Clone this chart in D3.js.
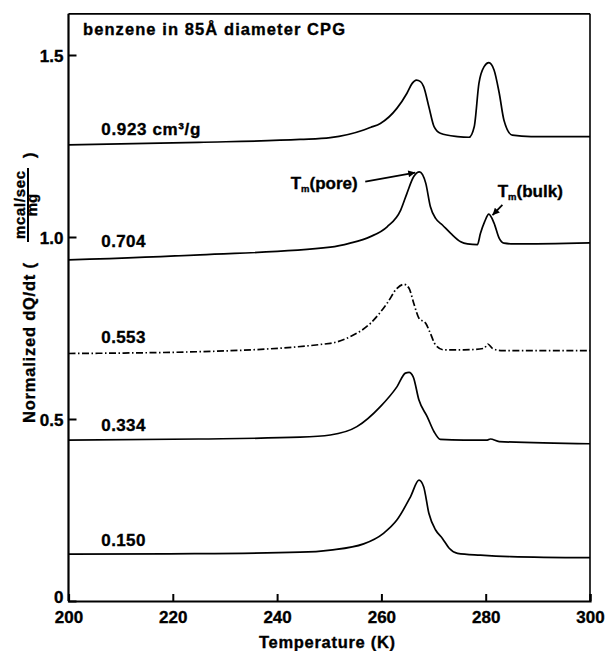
<!DOCTYPE html>
<html>
<head>
<meta charset="utf-8">
<script src="https://cdn.jsdelivr.net/npm/d3@7"></script>
<style>
  html, body { margin: 0; padding: 0; background: #fff; }
  svg { display: block; }
  text { font-family: "Liberation Sans", Arial, Helvetica, sans-serif; font-weight: bold; fill: #000; stroke: #000; stroke-width: 0.35px; }
</style>
</head>
<body>
<svg id="chart" width="605" height="651"></svg>
<script>
// ---- data ----
const xTicks = [200, 220, 240, 260, 280, 300];
const xTickLabels = ["200", "220", "240", "260", "280", "300"];
const yTicks = [0, 0.5, 1.0, 1.5];
const yTickLabels = ["0", "0.5", "1.0", "1.5"];

const seriesNames = ["0.923 cm³/g", "0.704", "0.553", "0.334", "0.150"];
const labelValues = [1.280, 0.972, 0.710, 0.468, 0.152];   // baseline of each curve label
const labelTemp = 206.3;

const t923 = [200, 225, 244.4, 250.2, 256.6, 257.9, 259.8, 263.0, 264.9, 265.9, 266.7, 267.5, 268.1, 269.1, 270.1, 271.3, 274.6, 276.8, 277.8, 278.7, 279.7, 280.6, 281.6, 282.6, 283.5, 285.1, 288.7, 300];
const v923 = [1.253, 1.260, 1.268, 1.273, 1.294, 1.301, 1.312, 1.354, 1.395, 1.422, 1.431, 1.427, 1.413, 1.358, 1.303, 1.285, 1.276, 1.274, 1.303, 1.422, 1.468, 1.479, 1.459, 1.395, 1.321, 1.280, 1.276, 1.276];

const t704 = [200, 225.2, 250.2, 254.0, 257.9, 261.1, 263.7, 264.9, 266.2, 267.3, 268.5, 269.4, 270.4, 271.7, 273.3, 275.2, 276.5, 278.4, 279.0, 279.8, 280.6, 281.6, 282.6, 283.5, 285.4, 300];
const v704 = [0.937, 0.951, 0.972, 0.983, 1.001, 1.028, 1.074, 1.120, 1.166, 1.179, 1.148, 1.083, 1.051, 1.033, 1.010, 0.987, 0.981, 0.979, 1.010, 1.042, 1.063, 1.038, 0.996, 0.983, 0.981, 0.984];

const t553 = [200, 225.2, 250.2, 254.0, 257.9, 261.1, 263.0, 264.3, 265.3, 266.2, 267.2, 268.5, 269.4, 270.4, 272.0, 275.8, 279.7, 280.4, 281.3, 282.9, 300];
const v553 = [0.680, 0.685, 0.708, 0.726, 0.763, 0.818, 0.859, 0.870, 0.859, 0.818, 0.777, 0.763, 0.735, 0.703, 0.690, 0.690, 0.694, 0.706, 0.694, 0.688, 0.688];

const t334 = [200, 225, 244.4, 250.2, 255.3, 259.8, 263.0, 264.6, 265.3, 266.1, 267.2, 268.8, 270.1, 271.3, 275.8, 280.3, 280.9, 282.6, 300];
const v334 = [0.442, 0.445, 0.450, 0.456, 0.479, 0.534, 0.589, 0.626, 0.628, 0.616, 0.552, 0.506, 0.465, 0.444, 0.442, 0.442, 0.445, 0.438, 0.432];

const t150 = [200, 225, 244.4, 250.2, 256.6, 260.4, 263.0, 265.6, 267.2, 268.1, 269.1, 270.4, 271.7, 273.0, 274.6, 279.0, 284.8, 300];
const v150 = [0.129, 0.130, 0.134, 0.140, 0.157, 0.186, 0.223, 0.287, 0.332, 0.314, 0.241, 0.195, 0.172, 0.145, 0.131, 0.126, 0.122, 0.119];

const seriesT = [t923, t704, t553, t334, t150];
const seriesV = [v923, v704, v553, v334, v150];
const seriesDash = [null, null, "7,2.5,1.5,2.5", null, null];

// annotation anchors in data space
const poreLabel = { t: 242.6, v: 1.132 };
const poreArrow = { t0: 256.9, v0: 1.152, t1: 266.5, v1: 1.177 };
const bulkLabel = { t: 282.3, v: 1.111 };
const bulkArrow = { t0: 283.2, v0: 1.088, t1: 281.3, v1: 1.060 };

// ---- scales ----
const svg = d3.select("#chart");
const x = d3.scaleLinear().domain([200, 300]).range([68.5, 590]);
const y = d3.scaleLinear().domain([0, 1.5]).range([601, 55]);
const yTop = 1.613;

// frame
svg.append("line").attr("x1", x(200)).attr("x2", x(300)).attr("y1", y(yTop)).attr("y2", y(yTop))
  .attr("stroke", "#000").attr("stroke-width", 1.6);
svg.append("line").attr("x1", x(300)).attr("x2", x(300)).attr("y1", y(yTop)).attr("y2", y(0))
  .attr("stroke", "#000").attr("stroke-width", 1.6);

// axes
const xAxis = d3.axisBottom(x).tickValues(xTicks).tickFormat((d, i) => xTickLabels[i])
  .tickSize(-7).tickPadding(10);
const gx = svg.append("g").attr("transform", `translate(0,${y(0)})`).call(xAxis);
gx.select(".domain").attr("stroke-width", 2.2);
gx.selectAll(".tick line").attr("stroke-width", 2);
gx.selectAll(".tick text").attr("font-size", 17).attr("font-family", null);

const yAxis = d3.axisLeft(y).tickValues(yTicks).tickFormat((d, i) => yTickLabels[i])
  .tickSize(-8).tickPadding(5);
const gy = svg.append("g").attr("transform", `translate(${x(200)},0)`).call(yAxis);
gy.select(".domain").attr("d", `M0,${y(0)}V${y(yTop)}`).attr("stroke-width", 2.2);
gy.selectAll(".tick line").attr("stroke-width", 2);
gy.selectAll(".tick text").attr("font-size", 17).attr("font-family", null)
  .attr("dy", d => d === 0 ? "0.08em" : "0.36em");

// curves
const line = d3.line().x(d => x(d[0])).y(d => y(d[1])).curve(d3.curveMonotoneX);
seriesT.forEach((ts, i) => {
  const pts = ts.map((t, j) => [t, seriesV[i][j]]);
  svg.append("path").datum(pts).attr("d", line)
    .attr("fill", "none").attr("stroke", "#000").attr("stroke-width", 1.7)
    .attr("stroke-dasharray", seriesDash[i]);
});

// series labels
seriesNames.forEach((name, i) => {
  const t = svg.append("text").attr("x", x(labelTemp)).attr("y", y(labelValues[i]))
    .attr("font-size", 17).text(name);
  if (i === 0) t.attr("textLength", 99).attr("lengthAdjust", "spacing");
  else t.attr("textLength", 44).attr("lengthAdjust", "spacing");
});

// title
svg.append("text").attr("x", 83).attr("y", 35).attr("font-size", 16.5)
  .attr("textLength", 262).attr("lengthAdjust", "spacing")
  .text("benzene in 85Å diameter CPG");

// x label
svg.append("text").attr("x", 259).attr("y", 648)
  .attr("font-size", 16.5).attr("textLength", 136).attr("lengthAdjust", "spacing")
  .text("Temperature (K)");

// y label
const yl = svg.append("g").attr("transform", "rotate(-90)");
yl.append("text").attr("x", -423).attr("y", 35).attr("font-size", 16.5)
  .attr("textLength", 160).attr("lengthAdjust", "spacing")
  .text("Normalized dQ/dt (");
yl.append("text").attr("x", -205).attr("y", 25).attr("text-anchor", "middle").attr("font-size", 15)
  .attr("textLength", 68).attr("lengthAdjust", "spacing")
  .text("mcal/sec");
yl.append("line").attr("x1", -242).attr("x2", -168).attr("y1", 28).attr("y2", 28)
  .attr("stroke", "#000").attr("stroke-width", 2);
yl.append("text").attr("x", -205).attr("y", 37).attr("text-anchor", "middle").attr("font-size", 15)
  .text("mg");
yl.append("text").attr("x", -158).attr("y", 35).attr("font-size", 16.5).text(")");

// annotations
function tmLabel(pos, rest) {
  const t = svg.append("text").attr("x", x(pos.t)).attr("y", y(pos.v)).attr("font-size", 17);
  t.append("tspan").text("T");
  t.append("tspan").attr("font-size", 9.5).attr("dy", 3).text("m");
  t.append("tspan").attr("dy", -3).text(rest);
}
tmLabel(poreLabel, "(pore)");
tmLabel(bulkLabel, "(bulk)");

svg.append("defs").append("marker").attr("id", "ah")
  .attr("viewBox", "0 0 10 10").attr("refX", 10).attr("refY", 5)
  .attr("markerWidth", 10).attr("markerHeight", 7).attr("markerUnits", "userSpaceOnUse")
  .attr("orient", "auto")
  .append("path").attr("d", "M0,0L10,5L0,10Z").attr("fill", "#000");

[poreArrow, bulkArrow].forEach(a => {
  svg.append("line").attr("x1", x(a.t0)).attr("y1", y(a.v0)).attr("x2", x(a.t1)).attr("y2", y(a.v1))
    .attr("stroke", "#000").attr("stroke-width", 1.8).attr("marker-end", "url(#ah)");
});
</script>
</body>
</html>
